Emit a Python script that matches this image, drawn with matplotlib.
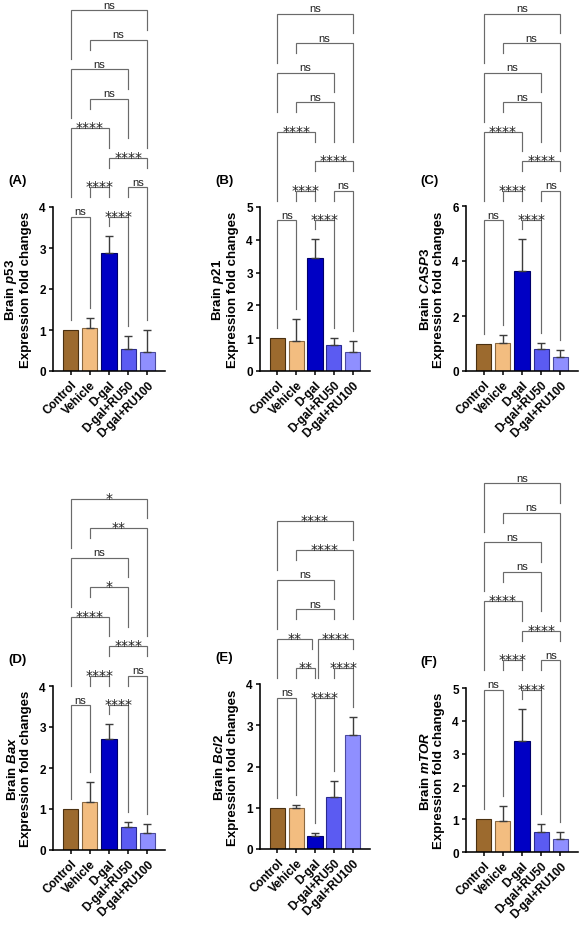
import numpy as np
import matplotlib.pyplot as plt
from matplotlib.lines import Line2D
from matplotlib.transforms import IdentityTransform

plt.rcParams['font.family'] = ['Liberation Sans', 'DejaVu Sans']
plt.rcParams['mathtext.fontset'] = 'custom'
plt.rcParams['mathtext.it'] = 'Liberation Sans:italic:bold'
plt.rcParams['mathtext.rm'] = 'Liberation Sans:bold'

# groups and colours
groups = ['Control', 'Vehicle', 'D-gal', 'D-gal+RU50', 'D-gal+RU100']
bar_colors = ['#9c6a2e', '#f3bd80', '#0000c4', '#5b5bf2', '#8f8fff']
edge_colors = ['#4a3010', '#8a6840', '#00006a', '#2a2a90', '#4a4aa0']

# one entry per panel
tags = ['(A)', '(B)', '(C)', '(D)', '(E)', '(F)']
genes = ['p53', 'p21', 'CASP3', 'Bax', 'Bcl2', 'mTOR']
y_max = [4, 5, 6, 4, 4, 5]
y_step = [1, 1, 2, 1, 1, 1]

# mean and SD
p53_mean = [1.00, 1.06, 2.89, 0.53, 0.47]
p53_sd = [0.00, 0.24, 0.41, 0.32, 0.54]
p21_mean = [1.00, 0.90, 3.45, 0.79, 0.59]
p21_sd = [0.00, 0.68, 0.57, 0.21, 0.32]
casp3_mean = [1.00, 1.01, 3.62, 0.79, 0.51]
casp3_sd = [0.00, 0.29, 1.17, 0.23, 0.25]
bax_mean = [1.00, 1.16, 2.70, 0.55, 0.41]
bax_sd = [0.00, 0.49, 0.37, 0.14, 0.23]
bcl2_mean = [1.00, 0.99, 0.31, 1.27, 2.76]
bcl2_sd = [0.00, 0.08, 0.07, 0.37, 0.45]
mtor_mean = [1.00, 0.95, 3.37, 0.60, 0.40]
mtor_sd = [0.00, 0.45, 1.00, 0.25, 0.20]

# pairwise comparisons (group indices) and their labels
pairs = [(0, 1), (2, 3), (1, 2), (3, 4), (2, 4), (0, 2), (1, 3), (0, 3), (1, 4), (0, 4)]
p53_sig = ['ns', '****', '****', 'ns', '****', '****', 'ns', 'ns', 'ns', 'ns']
p21_sig = ['ns', '****', '****', 'ns', '****', '****', 'ns', 'ns', 'ns', 'ns']
casp3_sig = ['ns', '****', '****', 'ns', '****', '****', 'ns', 'ns', 'ns', 'ns']
bax_sig = ['ns', '****', '****', 'ns', '****', '****', '*', 'ns', '**', '*']
bcl2_sig = ['ns', '****', '**', '****', '****', '**', 'ns', 'ns', '****', '****']
mtor_sig = ['ns', '****', '****', 'ns', '****', '****', 'ns', 'ns', 'ns', 'ns']

# stacking level of each bracket
tiers_std = [0, 0, 1, 1, 2, 3, 4, 5, 6, 7]
tiers_e = [0, 0, 1, 1, 2, 2, 3, 4, 5, 6]

means = [p53_mean, p21_mean, casp3_mean, bax_mean, bcl2_mean, mtor_mean]
sds = [p53_sd, p21_sd, casp3_sd, bax_sd, bcl2_sd, mtor_sd]
sigs = [p53_sig, p21_sig, casp3_sig, bax_sig, bcl2_sig, mtor_sig]
tiers = [tiers_std, tiers_std, tiers_std, tiers_std, tiers_e, tiers_std]

W, H = 579, 928
fig = plt.figure(figsize=(W / 100, H / 100), dpi=100)
px = IdentityTransform()

# axes boxes in pixels: left, y of zero line, width, height
boxes = [(53, 372, 112, 164), (260, 372, 110, 164), (466, 372, 112, 165),
         (53, 851, 112, 164), (260, 850, 110, 165), (466, 853, 112, 164)]
tag_pos = [(8, 181), (215, 181), (420, 181), (8, 660), (215, 658), (420, 662)]

renderer = fig.canvas.get_renderer()
BR = '#6a6a6a'

for n in range(6):
    x0, y0, w, h = boxes[n]
    ax = fig.add_axes([x0 / W, 1 - y0 / H, w / W, h / H])
    pos = np.arange(len(groups))
    m = np.array(means[n])
    s = np.array(sds[n])
    ax.bar(pos, m, width=0.8, color=bar_colors, edgecolor=edge_colors, linewidth=0.8, zorder=2)
    has = s > 0
    ax.errorbar(pos[has], m[has], yerr=[np.zeros(has.sum()), s[has]], fmt='none',
                ecolor='#3c3c3c', elinewidth=1.0, capsize=2.9, capthick=1.0, zorder=3)
    ax.set_xlim(-0.92, 4.92)
    ax.set_ylim(0, y_max[n])
    ax.set_yticks(np.arange(0, y_max[n] + 0.01, y_step[n]))
    ax.set_xticks(pos, groups, rotation=45, ha='right', rotation_mode='anchor')
    for side in ['top', 'right']:
        ax.spines[side].set_visible(False)
    for side in ['left', 'bottom']:
        ax.spines[side].set_linewidth(1.15)
    ax.tick_params(width=1.1, length=3.2, labelsize=8.5, pad=2)
    for lab in ax.get_xticklabels() + ax.get_yticklabels():
        lab.set_fontweight('bold')
    ax.set_ylabel('Brain $\\mathit{' + genes[n] + '}$\nExpression fold changes',
                  fontsize=9.5, fontweight='bold', labelpad=5, linespacing=1.15)
    fig.text(tag_pos[n][0] / W, 1 - tag_pos[n][1] / H, tags[n], fontsize=9.5,
             fontweight='bold', va='center', ha='left')

    # significance brackets, in pixel space
    xs = [ax.transData.transform((p, 0))[0] for p in pos]
    tops = [ax.transData.transform((0, a + b))[1] for a, b in zip(m, s)]
    base = max(tops) + 19
    placed = []
    for k in sorted(range(len(pairs)), key=lambda q: tiers[n][q]):
        i, j = pairs[k]
        y = base + tiers[n][k] * 29.5
        xa, xb = xs[i], xs[j]
        for q in range(len(pairs)):
            if q != k and tiers[n][q] == tiers[n][k]:
                if pairs[q][1] == i:
                    xa += 3
                if pairs[q][0] == j:
                    xb -= 3
        legs = []
        for idx, x in ((i, xa), (j, xb)):
            floor = tops[idx] + 10
            for pa, pb, py, ta, tb in placed:
                if py >= y - 1:
                    continue
                if pa - 0.5 <= x <= pb + 0.5:
                    floor = max(floor, py + 10)
                if ta - 5 <= x <= tb + 5:
                    floor = max(floor, py + 19.5)
            legs.append(floor)
        fig.add_artist(Line2D([xa, xa, xb, xb], [legs[0], y, y, legs[1]], transform=px,
                              color=BR, linewidth=0.85, solid_joinstyle='miter'))
        lab = sigs[n][k]
        cx = (xa + xb) / 2
        if lab == 'ns':
            t = fig.text(cx, y + 2.5, lab, transform=px, ha='center', va='baseline',
                         fontsize=8, color='#202020')
        else:
            t = fig.text(cx, y - 3, lab, transform=px, ha='center', va='baseline',
                         fontsize=10, color='#202020', family='DejaVu Sans')
        tw = t.get_window_extent(renderer).width
        placed.append((xa, xb, y, cx - tw / 2, cx + tw / 2))

fig.savefig('out.png', dpi=100)
